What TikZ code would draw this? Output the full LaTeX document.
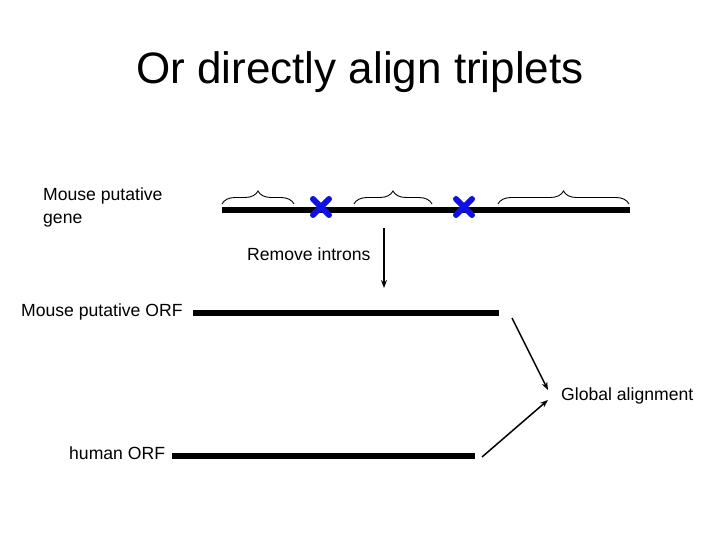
\documentclass[tikz,border=0pt]{standalone}
\usepackage{fontspec}
\setmainfont{Liberation Sans}
\usetikzlibrary{arrows.meta,decorations.pathreplacing,positioning}
\definecolor{xblue}{HTML}{1010E0}

\begin{document}
\begin{tikzpicture}[>={Stealth[length=8pt,width=6pt]},line cap=butt,
  lbl/.style={anchor=base west,inner sep=0pt,font=\fontsize{17.6}{22}\selectfont},
  seq/.style={line width=5.5pt,black},
  cross/.style={xblue,line width=6pt,line cap=round},
  brc/.style={decorate,decoration={brace,amplitude=13pt},line width=0.9pt},
  arr/.style={->,line width=1.5pt}]
\begin{scope}[x=1pt,y=-1pt]
  \path[use as bounding box] (0,0) rectangle (720,540);
  \fill[white] (0,0) rectangle (720,540);
  \node[anchor=base,inner sep=0pt,font=\fontsize{44}{50}\selectfont] (title) at (360,84) {Or directly align triplets};
  % gene with two introns
  \node[lbl,align=left] (gene) at (43,223) {Mouse putative\\gene};
  \draw[seq] (222,210) -- (630,210);
  \draw[brc] (222,204) -- (294,204);
  \draw[brc] (354,204) -- (432,204);
  \draw[brc] (498,204) -- (629,204);
  \foreach \cx in {321,464}{
    \draw[cross] (\cx-8,199) -- (\cx+8,215);
    \draw[cross] (\cx-8,215) -- (\cx+8,199);
  }
  % splice
  \node[lbl] (rm) at (247,260) {Remove introns};
  \coordinate (rmtop) at (384,228);
  \coordinate (rmbot) at (384,288);
  \draw[arr] (rmtop) -- (rmbot);
  % ORFs
  \node[lbl] (morf) at (21,316) {Mouse putative ORF};
  \draw[seq] (193,313) -- (499,313);
  \node[lbl] (horf) at (69,459) {human ORF};
  \draw[seq] (172,456) -- (475,456);
  % alignment
  \node[lbl] (ga) at (561,400) {Global alignment};
  \coordinate (mend) at (512,318);
  \coordinate (hend) at (482,457);
  \draw[arr] (mend) -- (548,390);
  \draw[arr] (hend) -- (548,400);
\end{scope}
\end{tikzpicture}
\end{document}
